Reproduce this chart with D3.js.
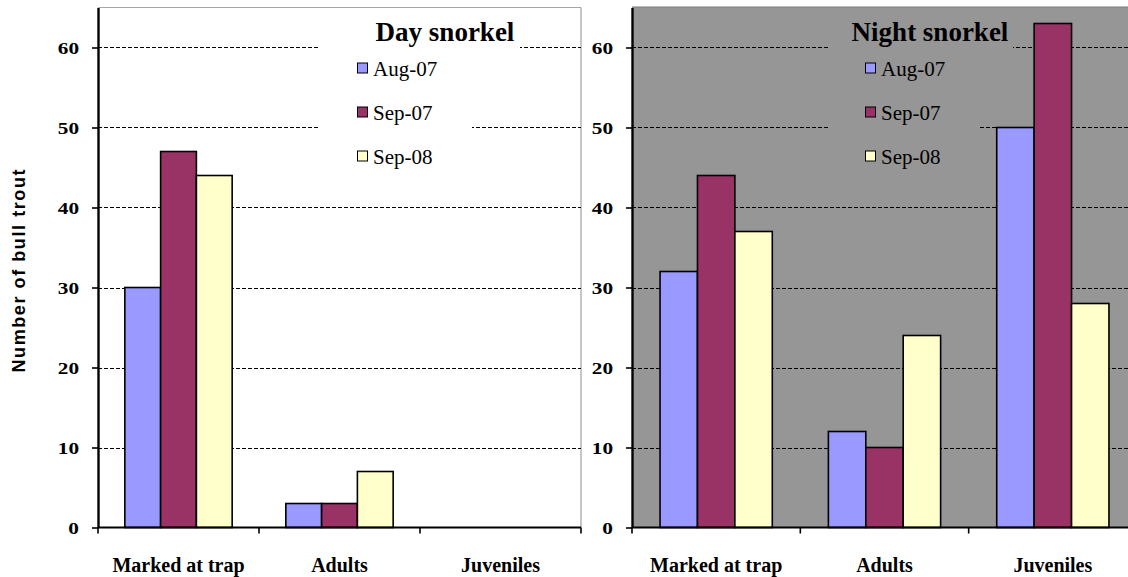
<!DOCTYPE html>
<html>
<head>
<meta charset="utf-8">
<script src="https://cdn.jsdelivr.net/npm/d3@7/dist/d3.min.js"></script>
<style>
  html, body { margin: 0; padding: 0; background: #fff; }
  svg { display: block; }
  .serif { font-family: "Liberation Serif", "Times New Roman", serif; }
</style>
</head>
<body>
<svg id="chart" width="1128" height="577"></svg>
<script>
// Bull trout counts by snorkel survey, category and survey date
const categories = ["Marked at trap", "Adults", "Juveniles"];
const seriesNames = ["Aug-07", "Sep-07", "Sep-08"];
const seriesColors = ["#9999FF", "#993366", "#FFFFCC"];

const dayAug07 = [30, 3, 0];
const daySep07 = [47, 3, 0];
const daySep08 = [44, 7, 0];

const nightAug07 = [32, 12, 50];
const nightSep07 = [44, 10, 63];
const nightSep08 = [37, 24, 28];

const yTicks = [0, 10, 20, 30, 40, 50, 60];
const yMax = 65;

const svg = d3.select("#chart");

const y = d3.scaleLinear().domain([0, yMax]).range([527.5, 7.5]);

function drawPanel(cfg) {
  const g = svg.append("g");
  const [x0, x1] = cfg.xRange;
  const x = d3.scaleBand().domain(categories).range([x0, x1]).padding(0);
  const cw = x.bandwidth();
  const barW = cw / 4.5;
  const xs = d3.scaleBand().domain(seriesNames).range([0.75 * barW, cw - 0.75 * barW]).padding(0);

  // plot area background and frame
  if (cfg.fill) {
    g.append("rect")
      .attr("x", x0).attr("y", y(yMax) - 0.5)
      .attr("width", cfg.bgRight - x0).attr("height", y(0) - y(yMax) + 0.5)
      .attr("fill", cfg.fill);
    g.append("line")
      .attr("x1", x0).attr("x2", cfg.bgRight)
      .attr("y1", y(yMax) - 0.5).attr("y2", y(yMax) - 0.5)
      .attr("stroke", "#7a7a7a").attr("stroke-width", 1);
  } else {
    g.append("line")
      .attr("x1", x0).attr("x2", x1)
      .attr("y1", y(yMax)).attr("y2", y(yMax))
      .attr("stroke", "#a6a6a6").attr("stroke-width", 1);
    g.append("line")
      .attr("x1", x1).attr("x2", x1)
      .attr("y1", y(yMax)).attr("y2", y(0))
      .attr("stroke", "#8c8c8c").attr("stroke-width", 1);
  }

  // dashed gridlines
  g.append("g").selectAll("line")
    .data(yTicks.filter(d => d > 0))
    .join("line")
    .attr("x1", x0).attr("x2", cfg.bgRight)
    .attr("y1", d => Math.round(y(d)) + 0.5).attr("y2", d => Math.round(y(d)) + 0.5)
    .attr("stroke", "#000").attr("stroke-width", 1.2)
    .attr("stroke-dasharray", "4,2");

  // title and legend panels sit over the gridlines
  const boxFill = cfg.fill || "#ffffff";
  g.append("rect")
    .attr("x", cfg.box.left).attr("y", 10)
    .attr("width", cfg.box.titleRight - cfg.box.left).attr("height", 44)
    .attr("fill", boxFill);
  g.append("rect")
    .attr("x", cfg.box.left).attr("y", 54)
    .attr("width", cfg.box.legendRight - cfg.box.left).attr("height", 126)
    .attr("fill", boxFill);

  g.append("text")
    .attr("class", "serif")
    .attr("x", cfg.titleX).attr("y", 41)
    .attr("text-anchor", "middle")
    .attr("font-size", 27).attr("font-weight", "bold")
    .attr("fill", "#000")
    .text(cfg.title);

  const leg = g.append("g").selectAll("g")
    .data(seriesNames)
    .join("g")
    .attr("transform", (d, i) => `translate(${cfg.legendX},${68.5 + i * 44})`);
  leg.append("rect")
    .attr("x", 0.5).attr("y", -5.5).attr("width", 10).attr("height", 10)
    .attr("fill", (d, i) => seriesColors[i])
    .attr("stroke", "#000").attr("stroke-width", 1);
  leg.append("text")
    .attr("class", "serif")
    .attr("x", 16).attr("y", 7)
    .attr("font-size", 21)
    .attr("fill", "#000")
    .text(d => d);

  // bars
  const series = cfg.values.map((vals, si) => ({ name: seriesNames[si], color: seriesColors[si], vals }));
  g.append("g").selectAll("g")
    .data(series)
    .join("g")
    .attr("fill", d => d.color)
    .selectAll("rect")
    .data(d => d.vals.map((v, ci) => ({ v, cat: categories[ci], s: d.name })))
    .join("rect")
    .attr("x", d => x(d.cat) + xs(d.s))
    .attr("y", d => y(d.v))
    .attr("width", xs.bandwidth())
    .attr("height", d => y(0) - y(d.v))
    .attr("stroke", "#000").attr("stroke-width", 1.6);

  // y axis
  const yAxis = g.append("g")
    .attr("transform", `translate(${x0},0)`)
    .call(d3.axisLeft(y).tickValues(yTicks).tickSize(6).tickSizeOuter(0).tickFormat(d3.format("d")));
  yAxis.select(".domain").attr("stroke", "#000").attr("stroke-width", 2.4);
  yAxis.selectAll(".tick line").attr("stroke", "#000").attr("stroke-width", 1.6);
  yAxis.selectAll(".tick text")
    .attr("class", "serif")
    .attr("x", null).attr("dy", "0.34em")
    .attr("transform", "translate(-19,0) scale(1.25,1)")
    .attr("font-size", 17).attr("font-weight", "bold")
    .attr("text-anchor", "end").attr("fill", "#000");

  // x axis baseline with boundary ticks
  const bounds = categories.map(c => x(c)).concat([x1]);
  g.append("line")
    .attr("x1", x0).attr("x2", x1)
    .attr("y1", y(0)).attr("y2", y(0))
    .attr("stroke", "#000").attr("stroke-width", 2.2);
  g.append("g").selectAll("line")
    .data(bounds)
    .join("line")
    .attr("x1", d => d).attr("x2", d => d)
    .attr("y1", y(0)).attr("y2", y(0) + 6)
    .attr("stroke", "#000").attr("stroke-width", 1.6);

  const xAxis = g.append("g")
    .attr("transform", `translate(0,${y(0)})`)
    .call(d3.axisBottom(x).tickSize(0).tickPadding(0));
  xAxis.select(".domain").remove();
  xAxis.selectAll(".tick text")
    .attr("class", "serif")
    .attr("y", 44).attr("dy", 0)
    .attr("font-size", 20).attr("font-weight", "bold")
    .attr("fill", "#000");
}

drawPanel({
  xRange: [98, 581],
  bgRight: 581,
  fill: null,
  title: "Day snorkel",
  titleX: 445,
  legendX: 357,
  box: { left: 320, titleRight: 520, legendRight: 472 },
  values: [dayAug07, daySep07, daySep08]
});

drawPanel({
  xRange: [632, 1137],
  bgRight: 1128,
  fill: "#969696",
  title: "Night snorkel",
  titleX: 930,
  legendX: 865,
  box: { left: 828, titleRight: 1013, legendRight: 978 },
  values: [nightAug07, nightSep07, nightSep08]
});

// shared y-axis title
svg.append("text")
  .attr("transform", "translate(25,271) rotate(-90)")
  .attr("text-anchor", "middle")
  .attr("font-family", "'Liberation Sans', Arial, sans-serif")
  .attr("font-size", 18).attr("font-weight", "bold")
  .attr("textLength", 203).attr("lengthAdjust", "spacing")
  .attr("fill", "#000")
  .text("Number of bull trout");
</script>
</body>
</html>
